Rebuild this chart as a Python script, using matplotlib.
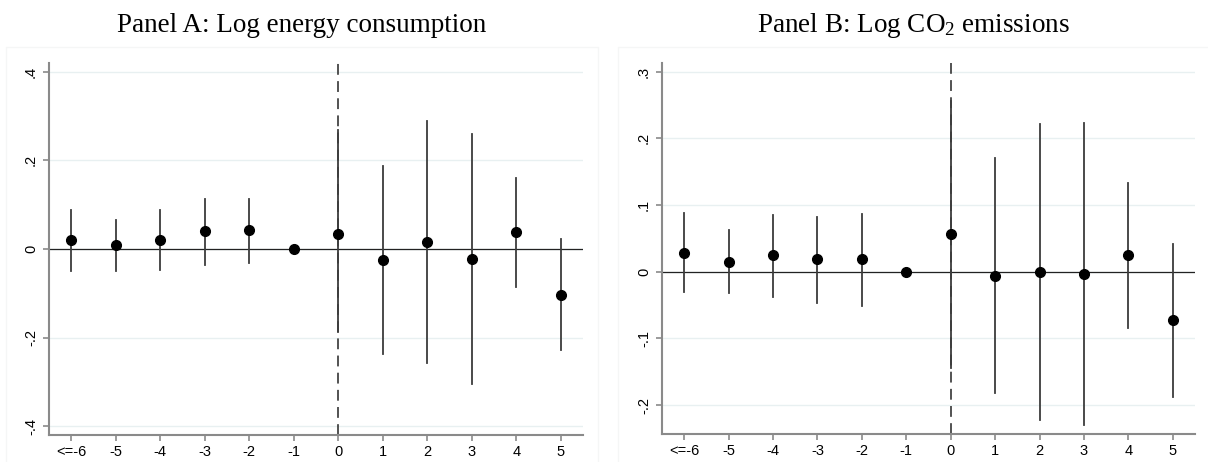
import matplotlib.pyplot as plt
from matplotlib.patches import Rectangle

# event time categories
labels = ['<=-6', '-5', '-4', '-3', '-2', '-1', '0', '1', '2', '3', '4', '5']
event_time = [-6, -5, -4, -3, -2, -1, 0, 1, 2, 3, 4, 5]

# Panel A: log energy consumption
coef_a = [0.020, 0.008, 0.020, 0.040, 0.042, 0.0, 0.033, -0.024, 0.016, -0.023, 0.038, -0.104]
lo_a = [-0.049, -0.049, -0.047, -0.035, -0.032, None, -0.187, -0.236, -0.257, -0.304, -0.086, -0.228]
hi_a = [0.088, 0.065, 0.087, 0.113, 0.112, None, 0.269, 0.188, 0.288, 0.259, 0.160, 0.022]

# Panel B: log CO2 emissions
coef_b = [0.028, 0.015, 0.025, 0.019, 0.019, 0.0, 0.056, -0.006, -0.001, -0.003, 0.025, -0.073]
lo_b = [-0.031, -0.032, -0.038, -0.047, -0.051, None, -0.145, -0.182, -0.223, -0.230, -0.084, -0.188]
hi_b = [0.088, 0.063, 0.085, 0.082, 0.086, None, 0.256, 0.171, 0.222, 0.223, 0.133, 0.042]

ticks_a = [-0.4, -0.2, 0, 0.2, 0.4]
ticklab_a = ['-.4', '-.2', '0', '.2', '.4']
ticks_b = [-0.2, -0.1, 0, 0.1, 0.2, 0.3]
ticklab_b = ['-.2', '-.1', '0', '.1', '.2', '.3']

plt.rcParams['font.family'] = ['Liberation Sans', 'DejaVu Sans']

fig = plt.figure(figsize=(12.08, 4.62), dpi=100)

# very faint graph region boxes
fig.patches.append(Rectangle((6 / 1208, -0.01), 592 / 1208, (462 - 47) / 462 + 0.01,
                             transform=fig.transFigure, fill=False, edgecolor='#f5f6f6', lw=1))
fig.patches.append(Rectangle((618 / 1208, -0.01), 600 / 1208, (462 - 47) / 462 + 0.01,
                             transform=fig.transFigure, fill=False, edgecolor='#f5f6f6', lw=1))

ax_a = fig.add_axes([49 / 1208, 27 / 462, 534 / 1208, 372 / 462])
ax_b = fig.add_axes([662 / 1208, 28 / 462, 533 / 1208, 371 / 462])


def panel(ax, coef, lo, hi, ticks, ticklab, ylim):
    for t, c, l, h in zip(event_time, coef, lo, hi):
        if l is not None:
            ax.plot([t, t], [l, h], color='#3c3c3c', lw=1.3, zorder=3)
    ax.plot(event_time, coef, 'o', color='black', markersize=7, zorder=4)
    ax.axhline(0, color='#222222', lw=0.9, zorder=2)
    ax.axvline(0, color='#444444', lw=1.3, dashes=(6, 3.5), zorder=2)
    ax.set_xlim(-6.5, 5.5)
    ax.set_ylim(*ylim)
    ax.set_xticks(event_time)
    ax.set_xticklabels(labels)
    ax.set_yticks(ticks)
    ax.set_yticklabels(ticklab, rotation=90, va='center')
    ax.grid(axis='y', color='#e8f0f1', lw=1, zorder=0)
    ax.spines['top'].set_visible(False)
    ax.spines['right'].set_visible(False)
    for s in ['left', 'bottom']:
        ax.spines[s].set_color('#8a8a8a')
        ax.spines[s].set_linewidth(1.5)
    ax.tick_params(axis='both', colors='#8a8a8a', labelcolor='black', labelsize=10.5,
                   length=4.5, width=1.2)
    ax.tick_params(axis='x', pad=2.5)
    ax.tick_params(axis='y', pad=3.5)


panel(ax_a, coef_a, lo_a, hi_a, ticks_a, ticklab_a, (-0.42, 0.42))
panel(ax_b, coef_b, lo_b, hi_b, ticks_b, ticklab_b, (-0.2435, 0.313))

fig.text(302 / 1208, 1 - 32 / 462, 'Panel A: Log energy consumption', family='Liberation Serif',
         fontsize=19.5, ha='center', va='baseline')
fig.text(913 / 1208, 1 - 32 / 462, r'Panel B: Log CO$\mathregular{_2}$ emissions', family='Liberation Serif',
         fontsize=19.5, ha='center', va='baseline')

fig.savefig('out.png', dpi=100)
